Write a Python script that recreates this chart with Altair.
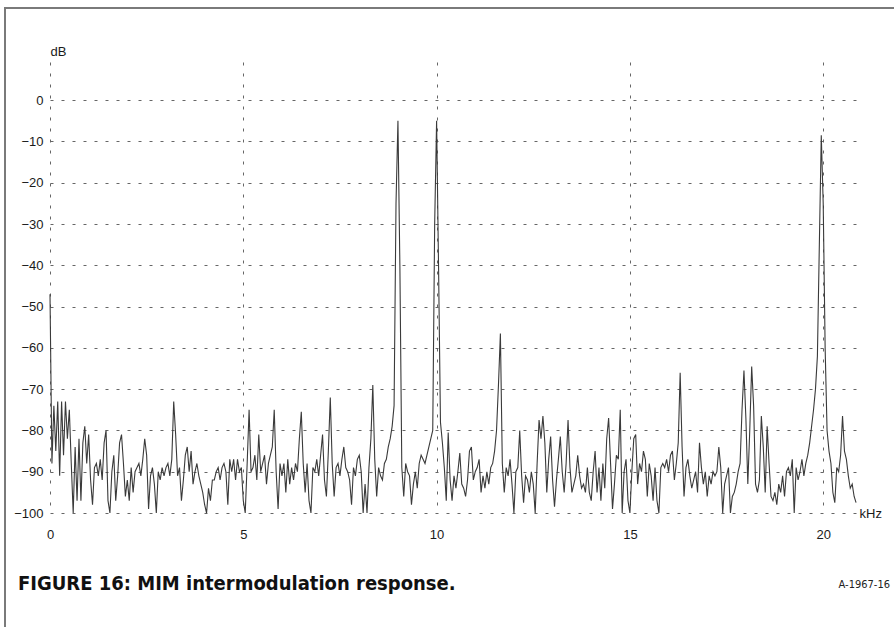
import altair as alt
import pandas as pd

# Spectrum analyser trace: level in dB, one value every 0.05 kHz starting at 0 kHz
freq_step_khz = 0.05

db_0_to_5 = [
    -47, -88, -74, -85, -73, -91, -73, -86, -73, -82,
    -75, -88, -100, -84, -97, -82, -97, -83, -79, -88,
    -81, -92, -98, -89, -88, -91, -87, -92, -83, -80,
    -97, -100, -90, -86, -97, -91, -83, -81, -88, -96,
    -92, -97, -89, -95, -90, -89, -88, -91, -87, -82,
    -86, -99, -91, -89, -93, -100, -90, -92, -89, -91,
    -89, -88, -91, -87, -73, -81, -91, -89, -97, -92,
    -86, -84, -90, -85, -93, -90, -88, -91, -93, -95,
    -98, -100, -94, -97, -92, -92, -90, -89, -92, -89,
    -88, -90, -98, -87, -90, -87, -92, -87, -90, -89,
]

db_5_to_10 = [
    -97, -100, -88, -75, -90, -89, -86, -92, -81, -90,
    -88, -86, -93, -88, -86, -84, -75, -90, -99, -88,
    -91, -88, -95, -87, -93, -89, -92, -88, -90, -82,
    -75.5, -88, -95, -88, -97, -100, -89, -90, -87, -91,
    -86, -81, -92, -96, -85, -72, -88, -96, -89, -88,
    -91, -87, -84, -89, -90, -92, -98, -89, -91, -87,
    -86, -90, -100, -93, -100, -89, -82, -69, -87, -96,
    -89, -91, -92, -88, -87, -84, -82, -79, -74, -25,
    -5, -40, -89, -96, -88, -90, -91, -98, -93, -90,
    -94, -88, -86, -87, -88, -86, -84, -82, -80, -30,
]

db_10_to_15 = [
    -5, -40, -78, -83, -89, -97, -80.5, -92, -97, -91,
    -94, -90, -85.5, -93, -94, -96, -92, -85, -84, -92,
    -90, -89, -87, -95, -91, -94, -90, -93, -89, -88,
    -85, -80, -69, -56.5, -88, -95, -89, -91, -87, -93,
    -100, -90, -89, -80, -91, -97.5, -91, -92, -95, -90,
    -93, -100, -88, -77.5, -82, -76.5, -83, -95, -87, -81.5,
    -92, -98.5, -92, -87, -81.5, -90, -95, -88, -77.5, -89,
    -95, -93, -91, -86, -91, -94, -93, -95, -89, -95,
    -97, -90, -85, -95, -89, -97, -88, -94, -82, -77,
    -88, -99, -93, -86, -87, -75, -100, -90, -87, -97,
]

db_15_to_21 = [
    -100, -90, -82, -81, -93, -88, -90, -85, -87, -96,
    -88, -91, -97, -89, -97, -100, -89, -88, -89, -87,
    -90, -86, -85, -92, -88, -83, -66, -84, -96, -89,
    -87, -91, -94, -92, -90, -95, -83, -89, -93, -90,
    -96, -91, -93, -90, -91, -90, -84, -89, -100, -93,
    -91, -89, -100, -96, -95, -93, -90, -88, -75, -65.5,
    -77, -93, -80, -64.5, -74, -93, -95, -92, -76.5, -84,
    -95, -79, -88, -96, -97, -95, -98, -93, -95, -91,
    -96, -90, -89, -91, -87, -100, -89, -92, -90, -87,
    -91, -88, -86, -83, -79, -75, -70, -62, -35, -8.5,
    -25, -60, -80, -85, -88, -95, -97.5, -89, -90, -86,
    -76.5, -85, -87, -91, -94, -93, -96, -97.5,
]

x_ticks = [0, 5, 10, 15, 20]
y_ticks = [0, -10, -20, -30, -40, -50, -60, -70, -80, -90, -100]
caption = ["FIGURE 16: MIM intermodulation response."]
code_label = ["A-1967-16"]

db_all = db_0_to_5 + db_5_to_10 + db_10_to_15 + db_15_to_21
df = pd.DataFrame({
    "f": [round(i * freq_step_khz, 2) for i in range(len(db_all))],
    "db": db_all,
})

LABEL_FONT = "Liberation Sans"

x_enc = alt.X(
    "f:Q",
    scale=alt.Scale(domain=[0, 20.9], nice=False, zero=False),
    axis=alt.Axis(
        values=x_ticks, grid=True, ticks=False, tickSize=0, domain=False,
        labelFlush=False, labelPadding=15, labelFont=LABEL_FONT, labelFontSize=13,
        labelColor="#1a1a1a",
        title="kHz", titleFont=LABEL_FONT, titleFontSize=13, titleFontWeight="normal",
        titleColor="#1a1a1a", titleAlign="left", titleBaseline="alphabetic",
        titleAngle=0, titleX=809, titleY=4,
    ),
)
y_enc = alt.Y(
    "db:Q",
    scale=alt.Scale(domain=[-100, 9.25], nice=False, zero=False),
    axis=alt.Axis(
        values=y_ticks, grid=True, ticks=False, tickSize=0, domain=False,
        labelFlush=False, labelPadding=7, labelFont=LABEL_FONT, labelFontSize=13,
        labelColor="#1a1a1a",
        title="dB", titleFont=LABEL_FONT, titleFontSize=13, titleFontWeight="normal",
        titleColor="#1a1a1a", titleAlign="left", titleBaseline="alphabetic",
        titleAngle=0, titleX=0, titleY=-7,
    ),
)

trace = alt.Chart(df).mark_line(color="#3a3a3a", strokeWidth=1.1).encode(x=x_enc, y=y_enc)

frame = alt.Chart(alt.Data(values=[{"k": 1}])).mark_rect(
    filled=False, stroke="#7a7a7a", strokeWidth=2
).encode(
    x=alt.value(-45), x2=alt.value(900), y=alt.value(-54), y2=alt.value(700)
)

cap = alt.Chart(pd.DataFrame({"t": caption})).mark_text(
    align="left", baseline="alphabetic",
    font="Liberation Sans Narrow, DejaVu Sans Condensed, sans-serif",
    fontSize=20, fontWeight="bold", color="#111111",
).encode(x=alt.value(-32), y=alt.value(528), text="t:N")

code = alt.Chart(pd.DataFrame({"t": code_label})).mark_text(
    align="right", baseline="alphabetic",
    font="Liberation Sans Narrow, DejaVu Sans Condensed, sans-serif",
    fontSize=11, color="#222222",
).encode(x=alt.value(840), y=alt.value(526), text="t:N")

chart = alt.layer(frame, trace, cap, code).properties(
    width=808, height=451,
    autosize=alt.AutoSizeParams(type="none"),
    padding={"left": 50, "top": 62, "right": 36, "bottom": 114},
    background="white",
).configure_view(stroke=None).configure_axis(
    gridColor="#666666", gridDash=[3, 8], gridWidth=1, gridOpacity=1,
)

chart.save("out.html", embed_options={"renderer": "svg", "actions": False})
